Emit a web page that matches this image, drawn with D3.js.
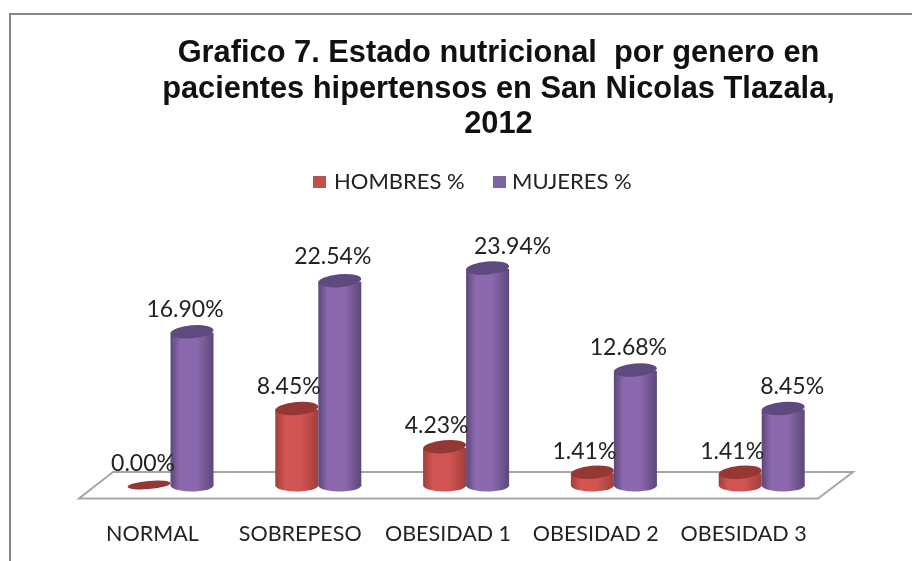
<!DOCTYPE html>
<html><head><meta charset="utf-8">
<script src="https://cdnjs.cloudflare.com/ajax/libs/d3/7.8.5/d3.min.js"></script>
<style>html,body{margin:0;padding:0;background:#fff;overflow:hidden}svg{display:block;filter:blur(.45px)}</style>
</head><body><svg id="c" width="912" height="561"></svg>
<script>
const categories = ["NORMAL","SOBREPESO","OBESIDAD 1","OBESIDAD 2","OBESIDAD 3"];
const seriesNames = ["HOMBRES %","MUJERES %"];
const hombres = [0.00,8.45,4.23,1.41,1.41];
const mujeres = [16.90,22.54,23.94,12.68,8.45];
const titleLines = ["Grafico 7. Estado nutricional  por genero en","pacientes hipertensos en San Nicolas Tlazala,","2012"];

const svg=d3.select("#c");
const defs=svg.append("defs");
const palette=[{edge:"#a23d3a",mid:"#d05553",top:"#953735",sw:"#c0504d"},{edge:"#5c4779",mid:"#8c69ae",top:"#5f4a7f",sw:"#8064a2"}];
palette.forEach((p,i)=>{
  const g=defs.append("linearGradient").attr("id","g"+i).attr("x1",0).attr("x2",1).attr("y1",0).attr("y2",0);
  [[0,p.edge],[.22,p.mid],[.6,p.mid],[1,p.edge]].forEach(s=>g.append("stop").attr("offset",s[0]).attr("stop-color",s[1]));
});
// frame
svg.append("path").attr("d","M10,561V14H912").attr("fill","none").attr("stroke","#868686").attr("stroke-width",2);
// title
svg.append("g").selectAll("text").data(titleLines).join("text")
 .attr("x",498.5).attr("y",(d,i)=>62+i*35.5).attr("text-anchor","middle")
 .attr("font-family","Liberation Sans").attr("font-weight","bold").attr("font-size",30.8).attr("fill","#111")
 .style("white-space","pre").text(d=>d);
// legend
const lg=svg.append("g");
[[313,334],[493,512]].forEach((a,i)=>{
  lg.append("rect").attr("x",a[0]).attr("y",176).attr("width",13).attr("height",12).attr("fill",palette[i].sw);
  lg.append("text").attr("x",a[1]).attr("y",189).attr("font-family","Lato").attr("font-size",22).attr("fill","#222").text(seriesNames[i]);
});
// scales
const x0=d3.scaleBand().domain(categories).range([96.5,835.5]);
const x1=d3.scaleBand().domain([0,1]).range([31,117]);
const y=d3.scaleLinear().domain([0,23.94]).range([486,269]);
// floor
svg.append("path").attr("d","M79,498.5L113,472H853L818,498.5Z").attr("fill","#fff").attr("stroke","#a6a6a6").attr("stroke-width",2);
// bars
const rows=categories.map((c,i)=>({c,v:[hombres[i],mujeres[i]]}));
const ry=6.5;
const cyl=svg.append("g");
rows.forEach(r=>{
  r.v.forEach((v,s)=>{
    const x=x0(r.c)+x1(s), w=x1.bandwidth(), rx=w/2, yt=y(v), yb=y(0);
    const g=cyl.append("g");
    if(v>0){
      g.append("path").attr("d",`M${x},${yt}V${yb}A${rx},${ry} 0 0 0 ${x+w},${yb-2}V${yt}Z`).attr("fill",`url(#g${s})`);
    }
    g.append("ellipse").attr("cx",x+rx).attr("cy",yt-1).attr("rx",rx).attr("ry",v>0?ry:4).attr("fill",palette[s].top)
     .attr("transform",`rotate(-5 ${x+rx} ${yt-1})`);
  });
});
// data labels: label nudges
const nudgeX=[[-6,-8,-8,-8,-8],[-7,-7,25,-7,9]];
const nudgeY=[[-15,-15,-15,-14,-14],[-16,-18,-15,-16,-15]];
const lbl=svg.append("g").attr("font-family","Lato").attr("font-size",23).attr("fill","#222").attr("text-anchor","middle");
rows.forEach((r,ci)=>{
  r.v.forEach((v,s)=>{
    const x=x0(r.c)+x1(s)+x1.bandwidth()/2;
    lbl.append("text").attr("x",x+nudgeX[s][ci]).attr("y",y(v)+nudgeY[s][ci]).text(d3.format(".2f")(v)+"%");
  });
});
// axis labels
svg.append("g").attr("transform","translate(0,541)").call(d3.axisBottom(x0).tickSize(0).tickPadding(0))
 .call(g=>g.select(".domain").remove())
 .call(g=>g.selectAll("text").attr("font-family","Lato").attr("font-size",21.5).attr("fill","#222").attr("dy",0).attr("y",0).attr("dx",-18).style("text-anchor","middle"));
</script></body></html>
